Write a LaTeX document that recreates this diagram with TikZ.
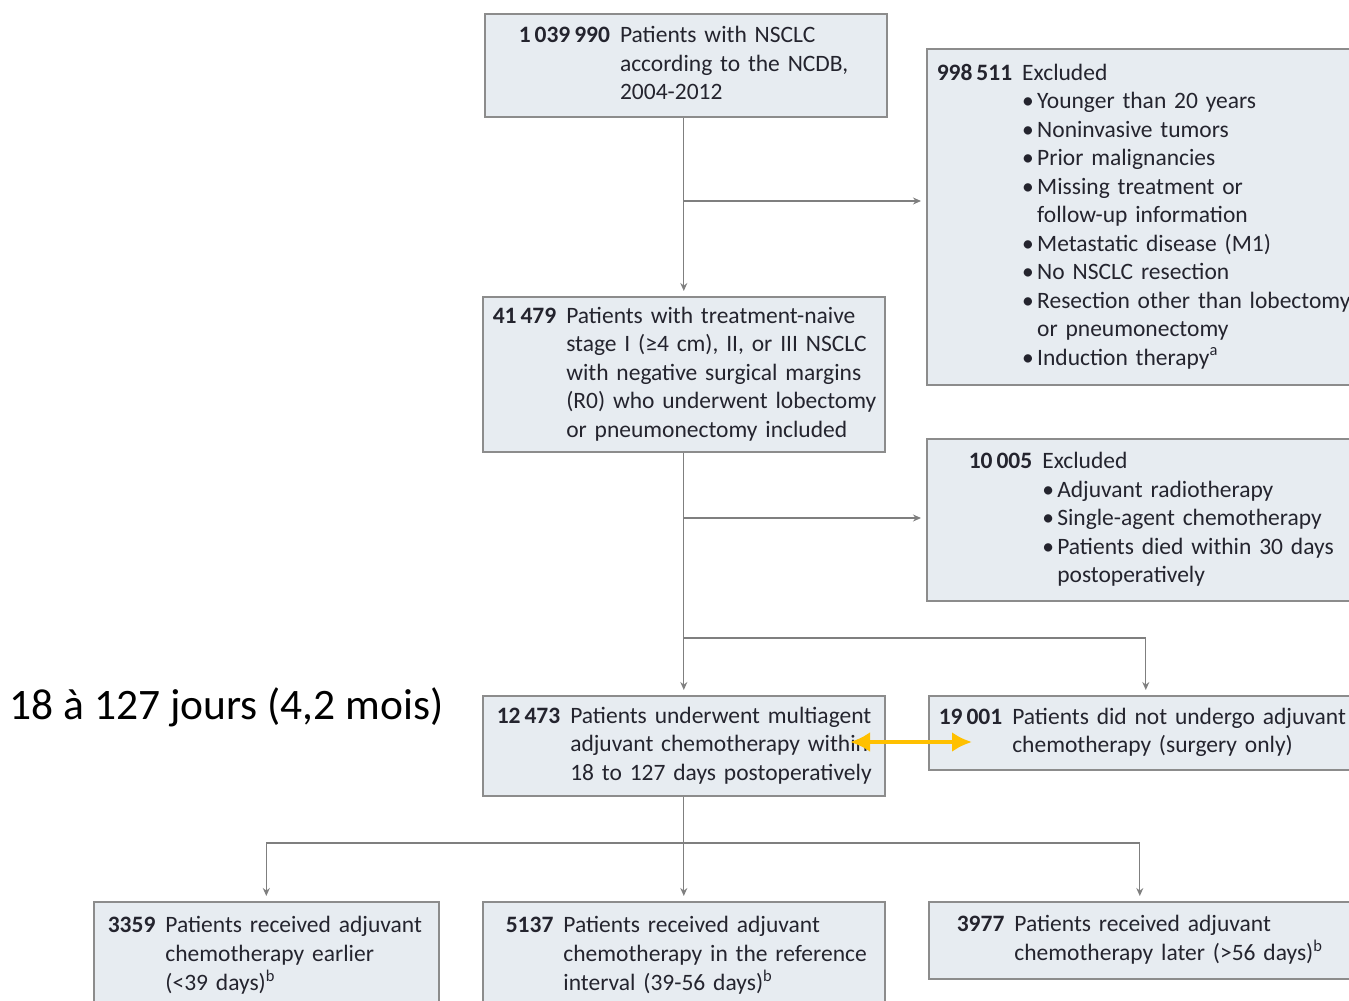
\documentclass[tikz,border=0pt]{standalone}
\usepackage{fontspec}
\setmainfont{Carlito}
\newfontfamily\boxfont{Carlito}
\usetikzlibrary{arrows.meta}

\definecolor{boxfill}{HTML}{E7ECF1}
\definecolor{boxline}{HTML}{8C8C8C}
\definecolor{flowgray}{HTML}{7F7F7F}
\definecolor{txtdark}{HTML}{24242E}
\definecolor{ambre}{HTML}{FFC000}

\newcommand{\countbox}[2]{\begin{tabular}{@{}l@{\hspace{10pt}}l@{}}\textbf{#1} & #2\end{tabular}}
\newcommand{\itm}{\makebox[15pt][l]{\textbullet}}
\newcommand{\cont}{\hspace{15pt}}

\begin{document}
\begin{tikzpicture}[x=1pt,y=-1pt,
  every node/.style={font=\boxfont\fontsize{23.5}{28.5}\selectfont, text=txtdark},
  countbox/.style={draw=boxline, fill=boxfill, line width=1.6pt, anchor=north west, align=left, inner ysep=0pt},
  flow/.style={draw=flowgray, line width=1.3pt, -{Stealth[length=8pt,width=7pt]}, shorten >=5pt},
  link/.style={draw=flowgray, line width=1.3pt},
  ambre arrow/.style={draw=ambre, line width=4pt, {Latex[length=20pt,width=20pt]}-{Latex[length=20pt,width=20pt]}}]
  \useasboundingbox (0,0) rectangle (1349,1001);
  \clip (0,0) rectangle (1349,1001);

  \node[countbox, inner xsep=34pt, text width=334pt, minimum height=103pt] (total) at (484,13)
    {\countbox{1\,039\,990}{Patients with NSCLC\\ & according to the NCDB,\\ & 2004-2012}};
  \node[countbox, inner xsep=10pt, text width=420pt, minimum height=336pt] (excla) at (926,48)
    {\countbox{998\,511}{Excluded\\
      & \itm Younger than 20 years\\
      & \itm Noninvasive tumors\\
      & \itm Prior malignancies\\
      & \itm Missing treatment or\\
      & \cont follow-up information\\
      & \itm Metastatic disease (M1)\\
      & \itm No NSCLC resection\\
      & \itm Resection other than lobectomy\\
      & \cont or pneumonectomy\\
      & \itm Induction therapy\textsuperscript{a}}};
  \node[countbox, inner xsep=10pt, text width=382pt, minimum height=155pt] (eligible) at (482,296)
    {\countbox{41\,479}{Patients with treatment-naive\\
      & stage I (≥4 cm), II, or III NSCLC\\
      & with negative surgical margins\\
      & (R0) who underwent lobectomy\\
      & or pneumonectomy included}};
  \node[countbox, inner xsep=42pt, text width=356pt, minimum height=162pt] (exclb) at (926,438)
    {\countbox{10\,005}{Excluded\\
      & \itm Adjuvant radiotherapy\\
      & \itm Single-agent chemotherapy\\
      & \itm Patients died within 30 days\\
      & \cont postoperatively}};
  \node[countbox, inner xsep=14pt, text width=374pt, minimum height=100pt] (chemo) at (482,695)
    {\countbox{12\,473}{Patients underwent multiagent\\
      & adjuvant chemotherapy within\\
      & 18 to 127 days postoperatively}};
  \node[countbox, inner xsep=10pt, text width=414pt, minimum height=74pt] (surgery) at (928,695)
    {\countbox{19\,001}{Patients did not undergo adjuvant\\
      & chemotherapy (surgery only)}};
  \node[countbox, inner xsep=14pt, text width=317pt, minimum height=108pt] (early) at (93,901)
    {\countbox{3359}{Patients received adjuvant\\
      & chemotherapy earlier\\
      & (<39 days)\textsuperscript{b}}};
  \node[countbox, inner xsep=23pt, text width=356pt, minimum height=108pt] (reference) at (482,901)
    {\countbox{5137}{Patients received adjuvant\\
      & chemotherapy in the reference\\
      & interval (39-56 days)\textsuperscript{b}}};
  \node[countbox, inner xsep=28pt, text width=366pt, minimum height=77pt] (late) at (928,901)
    {\countbox{3977}{Patients received adjuvant\\
      & chemotherapy later (>56 days)\textsuperscript{b}}};

  \node[font=\rmfamily\fontsize{43.5}{50}\selectfont, text=black, anchor=west] (delay) at (6,707)
    {18 à 127 jours (4,2 mois)};

  \coordinate (splita) at (683,201);
  \coordinate (splitb) at (683,518);
  \coordinate (splitc) at (683,638);
  \coordinate (splitd) at (683,843);

  \draw[flow] (total.south -| eligible.north) -- (eligible.north);
  \draw[flow] (splita) -- (splita -| excla.west);
  \draw[flow] (eligible.south) -- (chemo.north);
  \draw[flow] (splitb) -- (splitb -| exclb.west);
  \draw[flow] (splitc) -| (surgery.north);
  \draw[flow] (chemo.south) -- (reference.north);
  \draw[flow] (splitd) -| (early.north);
  \draw[flow] (splitd) -| (late.north);

  \coordinate (ambrea) at (850,742);
  \coordinate (ambreb) at (972,742);
  \draw[ambre arrow] (ambrea) -- (ambreb);
\end{tikzpicture}
\end{document}
